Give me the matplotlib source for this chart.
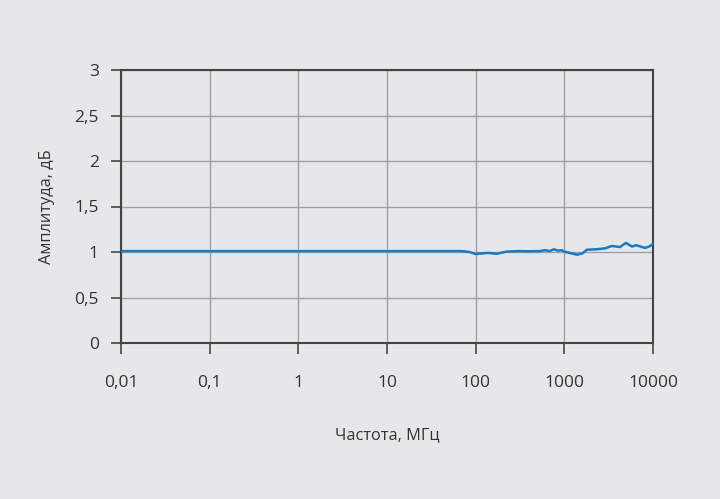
import matplotlib
matplotlib.use("Agg")
import matplotlib.pyplot as plt
from matplotlib.ticker import FixedLocator, FuncFormatter, NullLocator

# frequency, MHz / amplitude, dB
freq = [0.01, 0.1, 1, 10, 50, 70, 85, 100, 120, 138, 155, 174, 200, 225,
        300, 400, 531, 605, 689, 760, 848, 930, 1000, 1150, 1389, 1600,
        1800, 2300, 2873, 3445, 4244, 4956, 5795, 6427, 7200, 8121, 9000, 10000]
ampl = [1.01, 1.01, 1.01, 1.01, 1.01, 1.01, 1.0, 0.978, 0.985, 0.99, 0.985, 0.98,
        0.995, 1.005, 1.01, 1.008, 1.01, 1.02, 1.01, 1.03, 1.015, 1.02, 1.005, 0.99,
        0.97, 0.985, 1.025, 1.03, 1.04, 1.066, 1.055, 1.10, 1.06, 1.075, 1.06,
        1.045, 1.06, 1.085]

xticks = [0.01, 0.1, 1, 10, 100, 1000, 10000]
yticks = [0, 0.5, 1, 1.5, 2, 2.5, 3]

bg = "#e6e7e9"
txt = "#333333"
plt.rcParams["font.family"] = ["Open Sans", "DejaVu Sans"]

fig = plt.figure(figsize=(7.2, 4.99), dpi=100, facecolor=bg)
ax = fig.add_axes([121 / 720, 1 - 343 / 499, 532 / 720, 273 / 499])
ax.set_facecolor(bg)

ax.plot(freq, ampl, color="#1a7ac4", lw=1.8, zorder=3)

ax.set_xscale("log")
ax.set_xlim(0.01, 10000)
ax.set_ylim(0, 3)
ax.xaxis.set_major_locator(FixedLocator(xticks))
ax.xaxis.set_minor_locator(NullLocator())
ax.yaxis.set_major_locator(FixedLocator(yticks))


def fmt(v, pos):
    return ("%g" % v).replace(".", ",")


ax.xaxis.set_major_formatter(FuncFormatter(fmt))
ax.yaxis.set_major_formatter(FuncFormatter(fmt))

ax.grid(True, color="#a0a0a0", lw=1.0)
for s in ax.spines.values():
    s.set_color("#444444")
    s.set_linewidth(1.5)

ax.tick_params(axis="x", direction="out", length=8, width=1.2, color="#444444",
               pad=15, labelsize=12.5, labelcolor=txt)
ax.tick_params(axis="y", direction="out", length=7, width=1.2, color="#444444",
               pad=9, labelsize=12.5, labelcolor=txt)

ax.set_xlabel("Частота, МГц", fontsize=11.8, color=txt, labelpad=26)
ax.set_ylabel("Амплитуда, дБ", fontsize=11.8, color=txt, labelpad=14)

fig.savefig("out.png", dpi=100, facecolor=bg)
